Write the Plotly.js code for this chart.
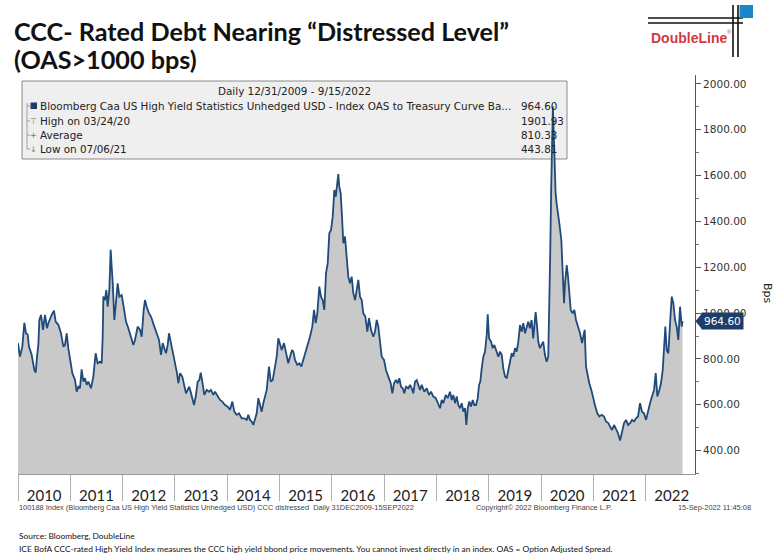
<!DOCTYPE html>
<html><head><meta charset="utf-8">
<script src="https://cdn.plot.ly/plotly-3.0.1.min.js"></script>
<style>html,body{margin:0;padding:0;background:#fff}#chart{width:780px;height:555px}</style>
</head><body><div id="chart"></div>
<script>
// ---------------- data ----------------
const years = [2010,2011,2012,2013,2014,2015,2016,2017,2018,2019,2020,2021,2022];

// decimal-year sample positions
const t = [
2010.000,2010.038,2010.083,2010.121,2010.153,2010.185,2010.210,2010.261,2010.312,2010.338,2010.363,2010.389,2010.408,2010.440,2010.478,2010.516,2010.554,2010.580,2010.644,2010.688,2010.720,2010.771,2010.822,2010.867,2010.899,2010.931,2010.962,2010.994,
2011.039,2011.090,2011.122,2011.154,2011.185,2011.217,2011.249,2011.281,2011.313,2011.345,2011.396,2011.440,2011.485,2011.523,2011.568,2011.600,2011.619,2011.632,2011.663,2011.689,2011.715,2011.746,2011.772,2011.791,2011.810,2011.842,2011.874,2011.906,2011.938,2011.982,
2012.020,2012.065,2012.110,2012.161,2012.205,2012.237,2012.288,2012.333,2012.365,2012.403,
2012.428,2012.460,2012.505,2012.543,2012.568,2012.606,2012.652,2012.696,2012.734,2012.767,2012.797,2012.830,2012.862,2012.887,2012.925,2012.969,
2013.002,2013.040,2013.065,2013.098,2013.141,2013.180,2013.212,2013.245,2013.275,2013.308,2013.340,2013.365,2013.398,2013.436,2013.467,2013.493,2013.524,2013.562,2013.608,2013.652,2013.690,2013.734,2013.767,2013.818,2013.862,2013.906,2013.958,
2014.010,2014.054,2014.098,2014.136,2014.182,2014.226,2014.277,2014.327,2014.373,2014.403,2014.436,2014.468,2014.499,2014.532,2014.564,2014.595,2014.627,2014.660,2014.690,2014.723,2014.755,2014.799,2014.832,2014.870,2014.914,2014.946,2014.977,
2015.004,2015.042,2015.086,2015.124,2015.168,2015.201,2015.239,2015.264,2015.296,2015.340,2015.379,2015.417,2015.455,2015.507,2015.551,2015.583,2015.627,2015.660,2015.692,2015.723,2015.761,2015.793,2015.826,2015.857,2015.889,2015.922,2015.952,2015.985,
2016.017,2016.048,2016.075,2016.105,2016.124,2016.143,2016.170,2016.195,2016.220,2016.252,2016.285,2016.315,2016.348,2016.380,2016.411,2016.444,2016.476,2016.507,2016.539,2016.572,2016.602,2016.641,2016.679,2016.711,2016.749,2016.793,2016.826,2016.858,2016.889,2016.922,2016.954,2016.998,
2017.036,2017.080,2017.126,2017.157,2017.189,2017.228,2017.260,2017.291,2017.323,2017.356,2017.386,2017.419,2017.463,2017.495,2017.528,2017.558,2017.591,2017.623,2017.654,2017.686,2017.719,2017.768,2017.814,2017.858,2017.897,2017.941,2017.987,
2018.025,2018.069,2018.101,2018.132,2018.178,2018.216,2018.260,2018.293,2018.323,2018.356,2018.388,2018.419,2018.451,2018.484,2018.515,2018.547,2018.572,2018.599,2018.629,2018.662,2018.694,2018.725,2018.757,2018.790,2018.815,2018.839,2018.866,2018.897,2018.929,2018.962,2018.981,
2019.006,2019.044,2019.076,2019.107,2019.153,2019.184,2019.216,2019.249,2019.279,2019.312,2019.344,2019.375,2019.407,2019.440,2019.470,2019.503,2019.535,2019.566,2019.598,2019.631,2019.661,2019.694,2019.726,2019.757,2019.787,2019.820,2019.851,2019.883,2019.897,2019.922,2019.947,2019.979,
2020.012,2020.042,2020.075,2020.107,2020.138,2020.157,2020.176,2020.195,2020.214,2020.227,2020.241,2020.260,2020.279,2020.298,2020.325,2020.350,2020.388,2020.415,2020.440,2020.459,2020.491,2020.516,2020.541,2020.568,2020.606,2020.637,2020.669,2020.707,2020.746,2020.784,2020.809,2020.835,2020.860,2020.893,2020.923,2020.962,
2021.000,2021.038,2021.076,2021.115,2021.161,2021.205,2021.243,2021.287,2021.320,2021.358,2021.396,2021.434,2021.472,2021.511,2021.543,2021.587,2021.625,2021.664,2021.702,2021.740,2021.778,2021.816,2021.855,2021.893,2021.931,2021.969,
2022.008,2022.046,2022.084,2022.122,2022.161,2022.193,2022.224,2022.262,2022.294,2022.327,2022.352,2022.377,2022.403,2022.434,2022.467,2022.499,2022.530,2022.562,2022.594,2022.625,2022.658,2022.690,2022.706
];

// Caa OAS (bps)
const oas = [
869,810,854,958,912,906,854,818,752,740,810,861,970,992,927,992,934,956,992,1011,963,949,912,854,861,912,847,796,
738,708,657,679,672,755,701,716,687,701,672,723,825,781,788,781,897,1072,1057,1101,1028,1101,1276,1203,1137,970,1057,1130,1072,1079,
1028,963,934,897,861,883,941,927,897,1014,
1057,1028,999,985,963,941,912,883,818,869,847,825,861,912,869,818,
796,738,694,738,723,679,650,665,679,650,621,599,636,701,708,740,701,643,665,657,665,643,657,636,621,614,599,
592,578,614,570,556,563,541,541,534,556,534,527,512,534,563,629,599,570,607,636,665,767,701,708,767,810,890,
869,839,869,825,781,810,839,832,796,774,781,767,796,839,869,897,941,1014,956,999,1116,1072,1057,1014,1174,1218,1348,1363,
1421,1537,1508,1567,1607,1552,1523,1421,1305,1334,1246,1159,1130,1159,1087,1057,1101,1145,1072,1057,999,985,919,978,927,897,919,970,941,883,810,796,
752,723,694,650,694,708,694,716,679,672,650,679,672,687,672,650,701,708,687,665,687,657,672,643,657,636,629,
607,585,621,607,643,629,657,621,643,607,636,599,585,607,570,585,512,585,614,592,621,599,599,629,687,701,759,810,832,905,995,
890,876,847,861,832,810,832,818,759,723,716,759,788,825,810,847,832,876,948,919,956,912,934,963,934,970,890,963,1004,948,876,847,
861,876,818,788,810,1000,1262,1550,1750,1901.93,1800,1650,1523,1479,1440,1392,1319,1203,1043,1130,1210,1159,1072,1014,999,1014,970,941,912,869,897,927,767,723,694,665,
621,592,563,549,556,549,527,520,505,490,512,490,476,443.81,483,520,534,512,520,534,527,541,549,607,570,563,
534,578,607,636,665,738,636,665,694,752,839,941,839,825,956,1072,1043,970,941,883,1028,941,964.60
];

const legendHeader = 'Daily 12/31/2009 - 9/15/2022';
const legendLabels = [
  'Bloomberg Caa US High Yield Statistics Unhedged USD - Index OAS to Treasury Curve Ba...',
  'High on 03/24/20',
  'Average',
  'Low on 07/06/21'
];
const legendValues = ['964.60','1901.93','810.33','443.81'];
const legendIcons = ['', '\u22A4', '+', '\u2193'];

// ---------------- layout helpers (pixel -> paper) ----------------
const L = 18, R = 695, T = 75, B = 474;
const px = x => (x - L) / (R - L);
const py = y => (B - y) / (B - T);
const TAH = 'DejaVu Sans, Verdana, sans-serif';
const CAL = 'Lato, Carlito, Calibri, sans-serif';
const ARI = 'Liberation Sans, Arial, sans-serif';

function ann(text, x, y, o) {
  o = o || {};
  return Object.assign({
    text: text, xref: 'paper', yref: 'paper', x: px(x), y: py(y),
    xanchor: 'left', yanchor: 'middle', showarrow: false, borderpad: 0,
    font: {family: TAH, size: 10.4, color: '#222'}
  }, o);
}

const annotations = [];
const shapes = [];

// Title
annotations.push(ann('<b>CCC- Rated Debt Nearing \u201CDistressed Level\u201D</b>', 13, 31, {font:{family:CAL,size:25.2,color:'#111'}}));
annotations.push(ann('<b>(OAS&gt;1000 bps)</b>', 13, 59.5, {font:{family:CAL,size:25.2,color:'#111'}}));

// Logo
shapes.push({type:'line', xref:'paper', yref:'paper', x0:px(648), x1:px(743), y0:py(18), y1:py(18), line:{color:'#111',width:1.6}});
shapes.push({type:'line', xref:'paper', yref:'paper', x0:px(648), x1:px(743), y0:py(23), y1:py(23), line:{color:'#111',width:1.6}});
shapes.push({type:'line', xref:'paper', yref:'paper', x0:px(733), x1:px(733), y0:py(5), y1:py(57), line:{color:'#111',width:1.6}});
shapes.push({type:'line', xref:'paper', yref:'paper', x0:px(738), x1:px(738), y0:py(5), y1:py(57), line:{color:'#111',width:1.6}});
shapes.push({type:'rect', xref:'paper', yref:'paper', x0:px(739.5), x1:px(753), y0:py(5), y1:py(18), fillcolor:'#1b86c8', line:{width:0}});
annotations.push(ann('<b>DoubleLine</b>', 689, 38, {xanchor:'center', font:{family:ARI, size:14, color:'#d2393f'}}));
annotations.push(ann('\u00AE', 729, 32, {xanchor:'center', font:{family:ARI, size:6, color:'#d2393f'}}));

// Legend box
shapes.push({type:'rect', layer:'below', xref:'paper', yref:'paper', x0:px(22), x1:px(567), y0:py(81), y1:py(159),
  fillcolor:'#efefef', line:{color:'#8a8a8a', width:1}});
annotations.push(ann(legendHeader, 294, 91, {xanchor:'center'}));
const rowY = [106, 121, 135, 149];
shapes.push({type:'line', xref:'paper', yref:'paper', x0:px(27), x1:px(27), y0:py(103), y1:py(rowY[3]), line:{color:'#a0a0a0', width:1}});
rowY.forEach((ry, i) => {
  shapes.push({type:'line', xref:'paper', yref:'paper', x0:px(27), x1:px(30), y0:py(ry), y1:py(ry), line:{color:'#a0a0a0', width:1}});
  annotations.push(ann(legendLabels[i], 39, ry));
  annotations.push(ann(legendValues[i], 520, ry));
  if (legendIcons[i]) annotations.push(ann(legendIcons[i], 33.5, ry, {xanchor:'center', font:{family:TAH,size:8,color:'#777'}}));
});
shapes.push({type:'rect', xref:'paper', yref:'paper', x0:px(30.5), x1:px(37), y0:py(102.5), y1:py(109), fillcolor:'#1d3e6b', line:{width:0}});

// Last value tag on right axis
const last = oas[oas.length - 1];
const tagH = 8 / ((B - T) / (2039 - 298));
shapes.push({type:'path', xref:'paper', yref:'y',
  path: 'M ' + px(695.5) + ',' + last + ' L ' + px(702) + ',' + (last + tagH) + ' L ' + px(702) + ',' + (last - tagH) + ' Z',
  fillcolor:'#1d3e6b', line:{width:0}});
annotations.push({text: last.toFixed(2), xref:'paper', yref:'y', x: px(701), y: last, xanchor:'left', yanchor:'middle',
  showarrow:false, bgcolor:'#1d3e6b', borderpad:2, font:{family:TAH, size:10.5, color:'#fff'}});

// Axis unit
annotations.push(ann('Bps', 768, 293, {xanchor:'center', textangle:90, font:{family:TAH,size:11,color:'#222'}}));

// Footers
annotations.push(ann('100188 Index (Bloomberg Caa US High Yield Statistics Unhedged USD) CCC distressed  Daily 31DEC2009-15SEP2022', 18, 507, {font:{family:ARI,size:7.4,color:'#444'}}));
annotations.push(ann('Copyright\u00A9 2022 Bloomberg Finance L.P.', 475, 507, {font:{family:ARI,size:7.4,color:'#444'}}));
annotations.push(ann('15-Sep-2022 11:45:08', 752, 507, {xanchor:'right', font:{family:ARI,size:7.4,color:'#444'}}));
annotations.push(ann('Source: Bloomberg, DoubleLine', 18, 536, {font:{family:CAL,size:8.4,color:'#111'}}));
annotations.push(ann('ICE BofA CCC-rated High Yield Index measures the CCC high yield bbond price movements. You cannot invest directly in an index. OAS = Option Adjusted Spread.', 18, 549, {font:{family:CAL,size:8.4,color:'#111'}}));

const trace = {
  x: t, y: oas, type: 'scatter', mode: 'lines',
  fill: 'tozeroy', fillcolor: '#c9c9c9',
  line: {color: '#1f4a7a', width: 1.8},
  hoverinfo: 'skip', showlegend: false
};

const layout = {
  width: 780, height: 555,
  margin: {l: L, r: 780 - R, t: T, b: 555 - B, pad: 0},
  paper_bgcolor: '#fff', plot_bgcolor: '#fff',
  showlegend: false,
  xaxis: {
    type: 'linear', range: [2010, 2022.944], fixedrange: true,
    showgrid: false, zeroline: false,
    showline: true, linecolor: '#9a9a9a', linewidth: 1,
    tickmode: 'array', tickvals: years.map(y => y + 0.5), ticktext: years.map(String),
    ticks: '', ticklabelstandoff: 8,
    tickfont: {family: CAL, size: 15, color: '#222'},
    minor: {tickmode: 'array', tickvals: years, ticks: 'outside', ticklen: 26, tickwidth: 1, tickcolor: '#b0b0b0', showgrid: false},
    automargin: false
  },
  yaxis: {
    side: 'right', range: [298, 2039], fixedrange: true,
    showgrid: false, zeroline: false,
    showline: true, linecolor: '#555', linewidth: 1,
    tickmode: 'linear', tick0: 0, dtick: 200, tickformat: '.2f',
    ticks: 'outside', ticklen: 5, tickwidth: 1, tickcolor: '#555',
    tickfont: {family: TAH, size: 10.5, color: '#333'},
    minor: {dtick: 100, ticks: 'outside', ticklen: 3, tickcolor: '#777', showgrid: false},
    automargin: false
  },
  shapes: shapes,
  annotations: annotations
};

Plotly.newPlot('chart', [trace], layout, {staticPlot: true, displayModeBar: false});
</script>
</body></html>
